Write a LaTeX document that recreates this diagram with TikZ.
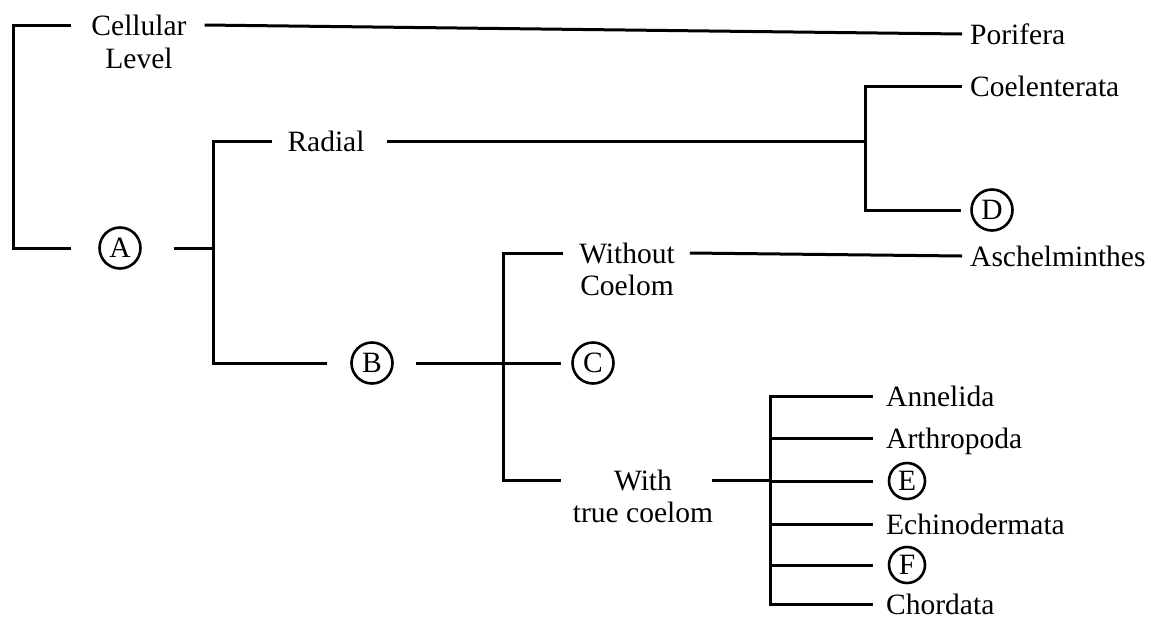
\documentclass[tikz,border=0pt]{standalone}
\usepackage{fontspec}
\setmainfont{Liberation Serif}
\begin{document}
\begin{tikzpicture}[x=1pt,y=-1pt,
  lbl/.style={inner sep=0pt, text height=20pt, text depth=0pt, font=\fontsize{29.5}{34}\selectfont},
  circ/.style={circle, draw, line width=2.6pt, minimum size=41pt, inner sep=0pt, font=\fontsize{29.5}{34}\selectfont},
  conn/.style={line width=3pt}]
\useasboundingbox (0,0) rectangle (1156,622);
\fill[white] (0,0) rectangle (1156,622);
% nodes
\node[lbl] (cell) at (139,25) {Cellular};
\node[lbl] (level) at (139,58) {Level};
\node[lbl,anchor=west] (pori) at (970,34) {Porifera};
\node[lbl,anchor=west] (coel) at (970,86) {Coelenterata};
\node[lbl] (radial) at (326,141) {Radial};
\node[circ] (D) at (992,210) {D};
\node[circ] (A) at (120,248) {A};
\node[lbl,anchor=west] (asch) at (970,256) {Aschelminthes};
\node[lbl] (without) at (627,253) {Without};
\node[lbl] (coelom) at (627,285) {Coelom};
\node[circ] (B) at (372,363) {B};
\node[circ] (C) at (593,363) {C};
\node[lbl] (with) at (643,480) {With};
\node[lbl] (true) at (643,512) {true coelom};
\node[lbl,anchor=west] (anne) at (886,396) {Annelida};
\node[lbl,anchor=west] (arth) at (886,438) {Arthropoda};
\node[circ,minimum size=36pt] (E) at (907,481) {E};
\node[lbl,anchor=west] (echi) at (886,524) {Echinodermata};
\node[circ,minimum size=36pt] (F) at (907,565) {F};
\node[lbl,anchor=west] (chor) at (886,604) {Chordata};
% junction columns
\coordinate (v0) at (13,0);
\coordinate (v1) at (213,0);
\coordinate (v2) at (865,0);
\coordinate (v3) at (503,0);
\coordinate (v4) at (770,0);
% connectors
\draw[conn] ([xshift=-20pt]cell.west) -| (v0 |- A.west) -- ([xshift=-27pt]A.west);
\draw[conn] ([xshift=18pt]cell.east) -- ([xshift=-8pt]pori.west);
\draw[conn] ([xshift=32pt]A.east) -- (v1 |- A.east);
\draw[conn] ([xshift=-15pt]radial.west) -| (v1 |- B.west) -- ([xshift=-23pt]B.west);
\draw[conn] ([xshift=22pt]radial.east) -- (v2 |- radial.east);
\draw[conn] ([xshift=-8pt]coel.west) -| (v2 |- D.west) -- ([xshift=-9pt]D.west);
\draw[conn] ([xshift=22pt]B.east) -- ([xshift=-10pt]C.west);
\draw[conn] ([xshift=-16pt]without.west) -| (v3 |- with.west) -- ([xshift=-53pt]with.west);
\draw[conn] ([xshift=15pt]without.east) -- ([xshift=-8pt]asch.west);
\draw[conn] ([xshift=40pt]with.east) -- (v4 |- with.east);
\draw[conn] ([xshift=-13pt]anne.west) -| (v4 |- chor.west) -- ([xshift=-13pt]chor.west);
\draw[conn] (v4 |- arth.west) -- ([xshift=-13pt]arth.west);
\draw[conn] (v4 |- E.west) -- ([xshift=-15pt]E.west);
\draw[conn] (v4 |- echi.west) -- ([xshift=-13pt]echi.west);
\draw[conn] (v4 |- F.west) -- ([xshift=-15pt]F.west);
\end{tikzpicture}
\end{document}
